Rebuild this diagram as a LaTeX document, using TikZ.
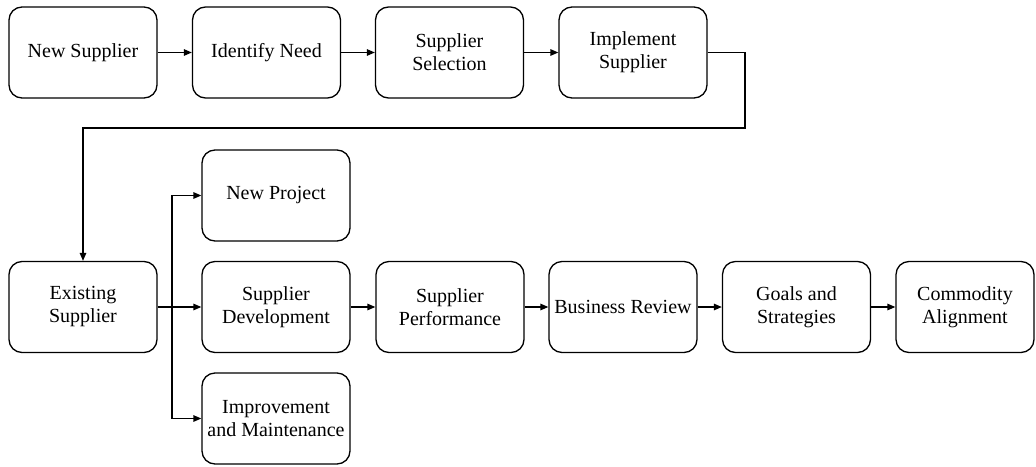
\documentclass[tikz,border=0pt]{standalone}
\usepackage{fontspec}
\setmainfont{Liberation Serif}
\newfontfamily\boxfont{Liberation Serif}
\usetikzlibrary{arrows.meta}
\begin{document}
\begin{tikzpicture}[x=1pt,y=-1pt,
  box/.style={draw, line width=1.3pt, rounded corners=13pt, minimum width=148pt,
    minimum height=91pt, align=center, inner sep=1pt,
    font=\boxfont\fontsize{20pt}{23pt}\selectfont},
  link/.style={line width=1.3pt, -{Triangle[length=8pt,width=6.5pt]}}]
\useasboundingbox (0,0) rectangle (1036,466);

% first track: onboarding a new supplier
\node[box] (ns) at (83,52.5)   {New Supplier};
\node[box] (in) at (266.5,52.5) {Identify Need};
\node[box] (ss) at (449.5,52.5) {Supplier\\Selection};
\node[box] (is) at (633,52.5)   {Implement\\Supplier};

% second track: managing an existing supplier
\node[box] (es) at (83,307)  {Existing\\Supplier};
\node[box] (np) at (276,195.5) {New Project};
\node[box] (sd) at (276,307) {Supplier\\Development};
\node[box] (im) at (276,418.5) {Improvement\\and Maintenance};
\node[box] (sp) at (450,307) {Supplier\\Performance};
\node[box] (br) at (623,307) {Business Review};
\node[box] (gs) at (796.5,307) {Goals and\\Strategies};
\node[box, minimum width=138pt] (ca) at (965,307) {Commodity\\Alignment};

\draw[link] (ns) -- (in);
\draw[link] (in) -- (ss);
\draw[link] (ss) -- (is);

% loop back from the first track to the second
\coordinate (r1) at (745,52.5);
\coordinate (r2) at (745,128);
\coordinate (r3) at (83,128);
\draw[link] (is.east) -- (r1) -- (r2) -- (r3) -- (es.north);

% branching out of the existing supplier
\coordinate (fork) at (172,307);
\draw[link] (es) -- (sd);
\draw[link] (fork) |- (np.west);
\draw[link] (fork) |- (im.west);

\draw[link] (sd) -- (sp);
\draw[link] (sp) -- (br);
\draw[link] (br) -- (gs);
\draw[link] (gs) -- (ca);
\end{tikzpicture}
\end{document}
